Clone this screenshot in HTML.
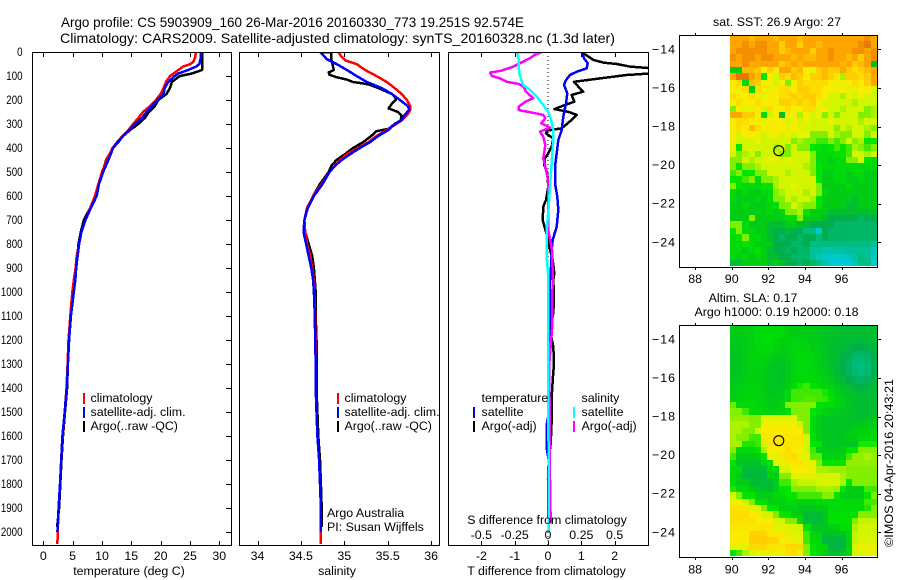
<!DOCTYPE html>
<html lang="en">
<head>
<meta charset="utf-8">
<title>Argo profile 5903909_160</title>
<style>
html,body{margin:0;padding:0;background:#fff;}
svg{display:block;font-family:"Liberation Sans",Arial,sans-serif;font-size:12.4px;fill:#000;}
.title{font-size:14px;}
.frame{fill:none;stroke:#000;stroke-width:1;shape-rendering:crispEdges;}
.tick{stroke:#000;stroke-width:1;shape-rendering:crispEdges;}
.ser{fill:none;stroke-width:2.5;shape-rendering:crispEdges;stroke-linejoin:round;}
.cell{shape-rendering:crispEdges;stroke:none;}
</style>
</head>
<body>
<svg id="chart" xmlns="http://www.w3.org/2000/svg" width="900" height="580" viewBox="0 0 900 580">
  <defs>
    <clipPath id="clip-t"><rect x="33" y="53" width="198" height="492"/></clipPath>
    <clipPath id="clip-s"><rect x="240" y="53" width="199" height="492"/></clipPath>
    <clipPath id="clip-d"><rect x="449" y="53" width="199" height="492"/></clipPath>
  </defs>
  <rect x="0" y="0" width="900" height="580" fill="#fff"/>
  <text class="title" x="61" y="27" textLength="463" lengthAdjust="spacingAndGlyphs">Argo profile: CS 5903909_160 26-Mar-2016 20160330_773 19.251S 92.574E</text>
  <text class="title" x="60" y="43" textLength="555" lengthAdjust="spacingAndGlyphs">Climatology: CARS2009. Satellite-adjusted climatology: synTS_20160328.nc (1.3d later)</text>

  <g id="map-sst"></g>
  <g id="map-sla"></g>
  <g id="panel-t"></g>
  <g id="panel-s"></g>
  <g id="panel-d"></g>
  <g id="axes"></g>

  <rect class="frame" x="32.5" y="52.5" width="199" height="493"/>
  <rect class="frame" x="239.5" y="52.5" width="200" height="493"/>
  <rect class="frame" x="448.5" y="52.5" width="200" height="493"/>
  <rect class="frame" x="679.5" y="35.5" width="198" height="232"/>
  <rect class="frame" x="679.5" y="325.5" width="198" height="232"/>

  <text x="129" y="575" text-anchor="middle">temperature (deg C)</text>
  <text x="337" y="575" text-anchor="middle">salinity</text>
  <text x="546.5" y="575" text-anchor="middle">T difference from climatology</text>
  <text x="547" y="524" text-anchor="middle">S difference from climatology</text>

  <g>
    <rect x="83" y="393" width="2" height="11" fill="#f00"/>
    <rect x="83" y="407" width="2" height="11" fill="#00f"/>
    <rect x="83" y="421" width="2" height="11" fill="#000"/>
    <text x="90.5" y="402">climatology</text>
    <text x="90.5" y="416">satellite-adj. clim.</text>
    <text x="90.5" y="430">Argo(..raw -QC)</text>
  </g>
  <g>
    <rect x="337" y="393" width="2" height="11" fill="#f00"/>
    <rect x="337" y="407" width="2" height="11" fill="#00f"/>
    <rect x="337" y="421" width="2" height="11" fill="#000"/>
    <text x="344.5" y="402">climatology</text>
    <text x="344.5" y="416">satellite-adj. clim.</text>
    <text x="344.5" y="430">Argo(..raw -QC)</text>
  </g>
  <text x="327" y="517">Argo Australia</text>
  <text x="327" y="531">PI: Susan Wijffels</text>
  <g>
    <text x="481.5" y="402">temperature</text>
    <text x="481.5" y="416">satellite</text>
    <text x="481.5" y="430">Argo(-adj)</text>
    <rect x="473" y="407" width="2" height="11" fill="#00f"/>
    <rect x="473" y="421" width="2" height="11" fill="#000"/>
    <text x="581.5" y="402">salinity</text>
    <text x="581.5" y="416">satellite</text>
    <text x="581.5" y="430">Argo(-adj)</text>
    <rect x="573" y="407" width="2" height="11" fill="#0ff"/>
    <rect x="573" y="421" width="2" height="11" fill="#f0f"/>
  </g>

  <text x="713" y="26" textLength="128" lengthAdjust="spacing">sat. SST: 26.9 Argo: 27</text>
  <text x="753" y="302" text-anchor="middle">Altim. SLA: 0.17</text>
  <text x="776.5" y="316" text-anchor="middle">Argo h1000: 0.19 h2000: 0.18</text>
  <text transform="translate(893 547) rotate(-90)" textLength="168" lengthAdjust="spacingAndGlyphs">©IMOS 04-Apr-2016 20:43:21</text>
</svg>

<script>
// ---------- temperature panel data (depth m, deg C) ----------
const tempClimDepth = [0,20,40,50,60,75,90,100,125,150,175,200,225,250,275,300,325,350,375,400,450,500,550,600,650,700,750,800,850,900,950,1000,1100,1200,1300,1400,1500,1600,1700,1800,1900,2000,2050];
const tempClim = [26.0,25.9,25.6,25.1,23.9,23.0,22.2,21.6,20.9,20.5,20.0,19.2,18.2,17.0,16.2,15.3,14.5,13.5,12.6,11.8,10.8,10.0,9.4,8.8,8.0,7.2,6.5,6.1,5.7,5.5,5.2,4.95,4.6,4.3,4.15,3.95,3.65,3.3,3.05,2.85,2.6,2.45,2.4];
const tempSatDepth = [0,30,50,60,75,90,100,125,150,175,200,225,250,275,300,325,350,375,400,450,500,550,600,650,700,750,800,850,900,950,1000,1100,1200,1300,1400,1500,1600,1700,1800,1900,2000];
const tempSat = [26.8,26.8,26.6,26.1,24.7,23.0,22.4,21.3,20.7,20.5,19.5,18.5,17.6,16.8,15.6,14.7,13.6,12.7,11.9,11.1,10.2,9.5,9.1,8.1,7.2,6.5,6.1,5.85,5.6,5.45,5.2,4.7,4.4,4.2,4.0,3.65,3.25,3.05,2.85,2.6,2.4];
const tempArgoDepth = [0,75,78,90,100,110,125,150,175,200,225,250,275,300,325,350,375,400,450,475,500,550,600,650,700,750,800,850,900,950,1000,1100,1200,1300,1400,1500,1600,1700,1800,1900,1980];
const tempArgo = [27.05,27.05,26.7,25.3,23.3,22.7,21.9,21.6,21.0,19.6,19.0,18.0,17.3,16.2,14.8,13.6,12.8,11.9,10.7,10.4,10.1,9.5,9.0,8.0,6.9,6.4,6.0,5.8,5.6,5.3,5.1,4.7,4.4,4.2,4.05,3.7,3.35,3.1,2.9,2.7,2.35];

// ---------- salinity panel data (depth m, psu) ----------
const salClimDepth = [0,20,35,50,75,100,125,150,175,200,225,240,260,285,300,325,350,375,400,425,450,475,500,550,600,650,700,750,800,850,900,950,1000,1100,1200,1300,1400,1500,1600,1700,1800,1900,2000,2050];
const salClim = [34.93,34.97,35.01,35.14,35.24,35.37,35.49,35.58,35.66,35.72,35.76,35.76,35.73,35.66,35.6,35.49,35.37,35.28,35.16,35.03,34.95,34.89,34.83,34.74,34.64,34.57,34.54,34.55,34.57,34.61,34.63,34.65,34.655,34.665,34.67,34.67,34.67,34.68,34.69,34.71,34.72,34.73,34.73,34.73];
const salSatDepth = [0,15,30,50,75,100,125,150,175,200,225,240,260,285,300,325,350,375,400,425,450,475,500,550,600,650,700,750,800,850,900,950,1000,1100,1200,1300,1400,1500,1600,1700,1800,1900,2000];
const salSat = [34.72,34.76,34.8,34.91,35.03,35.14,35.26,35.43,35.55,35.64,35.73,35.75,35.7,35.66,35.58,35.51,35.39,35.3,35.18,35.07,34.97,34.89,34.83,34.75,34.65,34.58,34.54,34.53,34.56,34.59,34.62,34.64,34.65,34.66,34.665,34.67,34.67,34.68,34.69,34.71,34.72,34.73,34.73];
const salArgoDepth = [0,1,30,60,75,85,95,105,115,125,130,135,150,175,195,215,235,250,265,285,300,320,330,350,375,400,425,450,475,500,550,600,650,700,750,800,850,900,950,1000,1100,1200,1300,1400,1500,1600,1700,1800,1900,1980];
const salArgo = [34.72,34.85,34.85,34.87,34.88,34.82,34.83,34.91,35.03,35.1,35.2,35.28,35.39,35.55,35.6,35.55,35.51,35.62,35.66,35.65,35.58,35.51,35.37,35.31,35.22,35.1,35.01,34.91,34.85,34.82,34.72,34.64,34.57,34.54,34.55,34.59,34.63,34.65,34.66,34.67,34.67,34.68,34.68,34.68,34.69,34.7,34.72,34.73,34.74,34.74];

// ---------- difference panel data ----------
const diffTArgoDepth = [5,19,33,44,50,61,68,89,96,110,124,144,165,179,207,221,238,249,262,283,318,328,339,360,394,422,443,471,505,561,617,644,700,735,769,811,867,922,950,1020,1089,1158,1228,1297,1367,1436,1533,1630,1700,1783,2000];
const diffTArgo = [1.06,1.21,1.36,1.66,2.06,2.46,3.1,3.1,2.36,1.56,0.78,0.91,1.06,0.71,0.79,0.51,0.19,0.61,0.86,0.71,0.41,-0.04,-0.06,0.16,0.11,0.01,-0.09,-0.11,-0.02,0.01,-0.06,-0.14,-0.16,-0.09,-0.02,0.04,0.14,0.19,0.16,0.18,0.16,0.06,0.16,0.18,0.14,0.11,0.11,0.08,0.02,0,0.02];
const diffTSatDepth = [5,26,47,68,82,96,117,137,172,214,269,325,367,422,478,547,603,658,728,783,825,880,950,1200,1500,1554,1651,1700,2000];
const diffTSat = [1.03,1.08,1.19,1.16,0.86,0.66,0.54,0.48,0.58,0.54,0.46,0.41,0.31,0.26,0.21,0.21,0.28,0.31,0.26,0.14,0.11,0.1,0.06,0.04,0.03,-0.04,-0.04,0.02,0.02];
const diffSArgoDepth = [2,12,26,40,61,78,86,100,110,124,133,144,165,193,207,228,242,251,262,276,297,315,332,353,388,443,478,533,644,742,825,922,1158,1297,1783,1964];
const diffSArgo = [-0.05,-0.1,-0.135,-0.185,-0.26,-0.35,-0.435,-0.42,-0.36,-0.31,-0.22,-0.185,-0.165,-0.11,-0.17,-0.22,-0.22,-0.135,-0.035,-0.02,-0.05,0.015,-0.06,-0.035,-0.02,-0.035,-0.02,0,0,0.002,0.03,0.035,0.03,0.01,0.015,0.02];
const diffSSatDepth = [0,2,33,61,89,117,138,158,186,221,249,276,325,367,443,561,644,742,853,922,1200,1783,2000];
const diffSSat = [-0.05,-0.23,-0.22,-0.22,-0.215,-0.2,-0.185,-0.135,-0.085,-0.035,0,0.02,0.04,0.04,0.03,0.015,0.005,-0.01,-0.01,0,0,0.005,0.005];

// ---------- tick labels ----------
const depthTicks = [0,100,200,300,400,500,600,700,800,900,1000,1100,1200,1300,1400,1500,1600,1700,1800,1900,2000];
const tempTicks = [0,5,10,15,20,25,30];
const salTicks = ["34","34.5","35","35.5","36"];
const diffTTicks = ["-2","-1","0","1","2"];
const diffSTicks = ["-0.5","-0.25","0","0.25","0.5"];
const lonTicks = [88,90,92,94,96];
const latTicks = [-14,-16,-18,-20,-22,-24];

// ---------- profile position ----------
const profileLon = [92.574];
const profileLat = [-19.251];

// ---------- SST map levels, 36 rows (north to south) by 24 columns ----------
const sstRows = [
[9,9,9,8.5,9,9,9,8.5,9,9,9,8.5,9,9,9,9,9,9,9,9,9,9,9.5,9],
[9,9,9.5,9,9.5,9.5,9,9,8,9,9,8,9,9,8.5,9,9,9,9,9,9,9.5,10,9],
[9,9.5,9.5,9.5,9.5,9.5,9,9,8,8.5,9,9,9,8,9,9,9.5,9,9,9,9.5,9.5,9,9.5],
[9.5,9,9.5,9.5,9,9.5,9.5,9,9,9,8.5,9,8.5,8.5,9,9,9.5,9,9,8.5,9,8,9,9.5],
[9,9,9.5,9,9,9,9,9,8,8.5,9,8.5,9,9,9,9,9,9,8.5,9,8,8.5,9,2.5],
[3,3,8.5,8.5,8,7,8,7,9,9,8,8.5,7,6.5,8,8.5,8,8,9,8,7.5,8,8.5,9],
[9,10,10,9,8.5,4,7,6,8,7.5,8.5,8,7,8,8,8.5,8,7,5.5,8,8,7.5,8,9],
[7,7.5,3.5,8.5,8,6.5,7,6,7,5,6.5,8,7.5,7.5,7.5,7.5,7,7,6.5,7,7.5,7,8,9],
[7,7,7.5,3,7.5,7,6.5,7,7.5,7.5,7,8,8,7.5,7.5,7,7,6.5,7,6.5,6.5,7,7,6],
[7.5,7,7,7.5,6.5,6.5,7,7,7.5,7.5,8,7.5,8,8,7.5,7,6,6,5.5,6.5,6,6.5,6,6],
[7,7.5,7,7,7.5,7,7,6.5,8,8,7.5,8,7.5,8,7,6,6,6,6,6,5.5,6,6,6],
[5,7,6.5,6.5,7,6,7.5,7,7,7.5,7,7,7.5,7.5,6.5,7,6,6,5.5,6,6,6,5,5.5],
[9,9,8,8,7,3.5,6,7,2.5,7,7,5.5,7,6,6.5,5,6,5,6,6,6,5,5,5.5],
[7,7.5,7.5,7,7,6.5,7,7,7,6,7,6,6.5,6,6,6,6.5,6,6,6,6,5.5,6,6],
[7,7.5,7,8.5,7.5,7,7,7,7,6.5,7,6.5,6,6,6,6,6,5,6,5.5,6,6,5.5,5],
[7,6,7,7,6.5,6,6.5,7,6,6.5,6,6.5,6.5,5,5,5,6,5.5,5,5,6,6,5,6],
[7,6,6,6,6.5,6,6,6,6,6,5,5.5,5,5,4.5,4.5,5,4.5,5,6,5,5.5,4,4],
[6.5,4,6,6,6,6,6,5.5,6,5,6,5,5,4,4,3.5,4,4.5,4,4.5,5.5,5,4.5,5],
[6,5,5.5,6,5,6,6,6,5,5,6,6,6,5,3.5,3.5,3.5,4,4,4.5,6,6,5.5,6],
[5,5,6,5.5,6,6,6.5,6.5,6,6.5,6,6,6,5,3.5,3.5,3,3.5,3.5,5,5,6,4,3.5],
[5,4,5,5,5.5,6,6,6,6,6,6,6,5.5,5,4,3.5,3.5,3.5,3.5,3.5,3.5,3.5,3.5,3.5],
[4.5,5,4,4,5,5,6,6,6,5.5,6,6,6,5,4,3,3,3.5,3.5,3,3.5,3.5,3,3],
[4,4,4.5,5,3.5,5,5,5.5,6,6,6,6,6,6,4,3,3,3.5,3.5,3,3,3.5,3,3],
[5,4,3.5,3.5,3.5,4,4,5.5,6,6,6.5,6,6,6,5,3,3,3,3,3.5,3,3,3,3],
[3.5,3,3.5,3,3,3.5,3.5,5,5.5,6,6,6,5.5,6,5,3.5,3,3,3,3,3,3,3,3],
[3.5,3,3,3,3.5,3,3.5,5,5,6,5.5,6,6,5.5,4,3,3,3,3,3,2.5,3,3,3],
[3,3,3.5,3,3,3,3.5,3.5,5,5,6,5.5,5,5,4,3,3,3,3,2.5,2.5,3,3,3],
[3,3,3,3,3,3,3.5,3,3.5,5,5,5.5,4,3,3,3,2.5,2.5,2.5,2.5,2.5,2.5,2.5,2.5],
[3,3,3,5,3,3,3,3,3,3.5,3.5,5,3,3,3,2.5,2,2,2,2,2,1.5,2,2],
[5,5,3.5,3,3,3,2.5,2.5,2.5,3,3,2.5,2.5,2,2,2,2,1.5,1.5,1.5,1.5,1.5,1.5,1.5],
[4,5,3.5,3.5,3,3,2.5,2,2,2.5,2,2,1,1,0.3,2,1.5,1.5,1.5,1.5,1.5,1.5,1.5,1.5],
[3.5,4,5,3.5,3.5,3,2.5,2,1.5,2,2,1.5,2,2,1,2,1.5,1.5,1.5,1.5,1.5,1.5,1.5,1.5],
[3.5,3.5,4,3.5,3,3,3,2,2,2,1.5,1.5,2,1,1,1,1,1,1,1,1,1,1,0.8],
[3.5,3.5,3,3.5,4,3,2.5,2,2,1.5,2,1.5,1.5,0.8,0.8,0.6,0.6,0.7,0.7,0.8,0.8,0.8,0.8,0.5],
[3.5,3,3.5,3,3.5,3,2.5,2.5,2,2,1.5,1.5,1.5,0.8,0.5,0.4,0.3,0.3,0.3,0.5,0.7,1,0.8,0.4],
[2.5,2.5,3,3,3,3,2.5,3,2.5,2,2,1.5,2,1.5,1,0.6,0.3,0.2,0.2,0.2,0.5,1,1,0.2]
];

// ---------- SLA map levels, 36 rows (north to south) by 24 columns ----------
const slaRows = [
[3,3,3,3,3.5,3.5,3.5,3.5,3.5,3,3,3,3,3,2.8,2.8,2.6,2.6,2.5,2.5,2.5,2.5,2.5,2.5],
[3,3,3,3.2,3.5,3.8,3.8,3.8,3.5,3.2,3,3,3,2.9,2.8,2.7,2.6,2.6,2.5,2.5,2.5,2.5,2.5,2.5],
[2.9,2.9,3,3.2,3.5,3.7,3.7,3.4,3.2,3.2,3.3,3.3,3.2,3,2.9,2.7,2.6,2.5,2.5,2.4,2.4,2.3,2.4,2.5],
[2.8,2.8,3,3.2,3.4,3.5,3.5,3.2,3,3.2,3.4,3.4,3.3,3,2.9,2.8,2.6,2.5,2.4,2.2,2,2,2.1,2.3],
[2.7,2.8,3,3.2,3.4,3.5,3.3,3,2.9,3.1,3.4,3.5,3.4,3.2,3,2.8,2.6,2.5,2.2,1.9,1.6,1.5,1.7,2.1],
[2.7,2.8,3,3.2,3.3,3.2,3,2.8,2.8,3,3.3,3.5,3.5,3.3,3,2.8,2.6,2.4,2.1,1.7,1.3,1.2,1.4,1.9],
[2.7,2.8,3,3.2,3.3,3.1,2.8,2.7,2.7,2.9,3.3,3.5,3.5,3.4,3.1,2.9,2.6,2.4,2,1.6,1.2,1,1.3,1.8],
[2.7,2.8,3,3.2,3.2,3,2.8,2.7,2.7,2.9,3.3,3.5,3.6,3.4,3.2,3,2.7,2.4,2.1,1.7,1.3,1.1,1.4,1.9],
[2.8,2.9,3.1,3.2,3.2,3,2.8,2.7,2.7,3,3.4,3.6,3.7,3.6,3.4,3.1,2.9,2.6,2.3,2,1.7,1.6,1.8,2.2],
[2.9,3,3.2,3.3,3.2,3,2.8,2.7,2.8,3.1,3.7,4.2,4.5,4,3.7,3.4,3.2,2.9,2.6,2.4,2.2,2.1,2.2,2.4],
[3,3.1,3.3,3.3,3.2,3,2.8,2.8,2.9,3.4,4.5,4.5,4.5,4.5,4.5,4.2,3.5,3.1,2.8,2.6,2.5,2.4,2.4,2.5],
[3.1,3.2,3.4,3.4,3.3,3.1,2.9,2.9,3,3.5,4.5,4.5,4.6,4.6,4.5,4.4,4,3.3,2.9,2.7,2.6,2.5,2.5,2.5],
[4.8,3.6,3.5,3.5,3.4,3.2,3,3,3.2,5,5,5,5,5,3.8,3.8,3.8,3.3,3,2.8,2.6,2.5,2.5,2.5],
[5,5,4.5,3.6,3.5,3.4,3.2,3.3,3.4,3.6,5,5,5,4,3.5,3.2,3,2.9,2.8,2.7,2.6,2.5,2.5,2.6],
[5.2,5.2,5.2,5,5,6.3,6.3,6.3,6.3,6.3,6.3,5,5,3.5,3,2.8,2.8,2.7,2.7,2.6,2.6,2.6,2.7,2.8],
[5.5,5.5,5.5,5,5,6.8,6.8,6.8,6.8,6.8,6.8,6,5,3.5,3,2.8,2.7,2.7,2.7,2.7,2.8,2.9,3,3],
[5.5,5.5,5,5,6,7,7,7,7,7,7,7,5,3.5,3,2.8,2.7,2.7,2.7,2.8,3,3.2,3.3,3.4],
[5.5,5,5,4.5,4.5,7.2,7.2,7.2,7.2,7.2,7.2,7.2,6,3.8,3,2.8,2.7,2.7,2.8,3,3,3.5,3.5,3.5],
[5.5,5.5,4.2,4.2,4.5,6,7.2,7.2,7.2,7.2,7.2,7.2,6,4,4,2.8,2.8,2.8,2.8,2.8,2.8,4.2,4.2,4.2],
[5,3.5,3.5,3.5,4,5.5,7,7,7,7.5,7,7,6,4.5,3,3,3,3,3,4,4,5,5,5],
[4.5,3,3,3,3,4,6.5,6.5,7.3,7.3,7.6,6.5,6.5,4.7,4.7,3.2,3.2,3.2,3.2,4.5,5.2,5.2,5.5,5.2],
[4,2.7,2.7,2.7,2.7,3.5,3.5,6.5,6.5,7.2,7.2,7.2,6.5,6.5,5,4,4,4,4,5.2,5.2,5.2,5.2,5.2],
[3.5,3.5,2.4,2.4,2.4,2.4,3.5,3.5,6,6,7,7,7,6.5,5.5,5.5,5.3,5.3,5.3,5,5,5,5,5],
[3.5,3,2.3,2.3,2.3,2.3,3,3,5,5,6.3,6.3,6.3,6.3,6,6,6,6,5.5,5,5,5,5,5],
[3.8,3,3,2.4,2.4,2.4,2.4,3,4.5,4.5,5.5,5.8,5.8,5.8,6,6.2,6.2,6.2,5.5,4,5,5,5,5],
[4.2,3.5,3.5,3,2.6,2.6,2.6,3,4,4,5,5,5,5,5.5,5.5,5.5,5.3,4,3,3,3,4.5,4.5],
[6,5,4,4,3,3,3,3.5,3.5,4,4,4.5,4.5,4.5,4.5,5,5,4,3,3,3,3,4,5],
[6.8,6.8,6,5,3.8,3.8,3.2,3.2,3.2,3.5,3.5,3.2,3.2,3.2,3.5,3.5,3.5,3.5,3.5,3.5,3.5,3.5,4.5,4.5],
[7.3,7.3,7.3,6.3,6.3,5,4,4,3.2,3.2,3.2,2.8,2.8,2.8,3,3,3.6,3.6,3.6,3.6,3.6,3.6,4.2,5],
[7.5,7.5,7.5,7,7,6,6,5,4,4,3,3,2.4,2.4,2.4,2.8,3.8,3.8,3.8,3.8,3.8,5,5,5],
[7.4,7.4,7.4,7.4,7,7,7,6,6,5,5,3.5,2.4,2.4,2.4,2.8,3.9,3.9,3.9,3.9,5,5.8,5.8,5.8],
[7.2,7.2,7.2,7.2,7.3,7.3,7.3,6.3,6.3,6.3,6,6,4,2.8,2.8,2.8,3,3,3.8,3.8,5.5,6,6,6],
[7,7,7,7.8,7.8,7.8,7.2,7.2,7.2,6.3,6.3,6.3,4.5,3.4,3.4,2.6,2.6,2.6,2.6,3.4,5.8,6,6,6],
[7,7,7,8,8,8,7.8,7.8,7,7,6.5,6.5,4.5,3.6,3.6,2.2,2.2,2.2,2.2,3.3,5.8,6.2,6.2,6.2],
[6.5,6.5,6.5,7.6,7.6,7.6,7.3,7.3,7.3,7.6,7.6,7.6,5,4,3.6,3.6,2.2,2.2,2.2,3.3,6,6.5,6.5,6.5],
[4,4.5,5.5,6,6.5,6.5,6.5,6.5,6.8,7.4,7.6,6.5,5,4,3.6,3,2.5,2.4,2.6,3.3,6,6.3,6.5,6.5]
];

// ---------- colour ramp stops ----------
const rampR = [0,0,0,0,0,130,212,250,255,255,232];
const rampG = [205,190,175,205,228,238,245,236,205,165,120];
const rampB = [235,130,75,20,0,0,0,0,0,0,0];

// ---------- axis functions ----------
function depthY(d){ return 52 + d * 0.24; }
function tempX(t){ return 43.3 + t * 5.867; }
function salX(s){ return 344.3 + (s - 35) * 86.8; }
function diffTX(v){ return 548 + v * 33.33; }
function diffSX(v){ return 548 + v * 133.3; }
function lonX(l){ return 731.7 + (l - 90) * 18.3; }
function latY1(l){ return 49.3 + (-14 - l) * 19.3; }
function latY2(l){ return 339.3 + (-14 - l) * 19.3; }
function rampColor(v){
  const c = Math.max(0, Math.min(10, v));
  const i = Math.min(9, Math.floor(c));
  const f = c - i;
  const r = Math.round(rampR[i] + (rampR[i+1] - rampR[i]) * f);
  const g = Math.round(rampG[i] + (rampG[i+1] - rampG[i]) * f);
  const b = Math.round(rampB[i] + (rampB[i+1] - rampB[i]) * f);
  return 'rgb(' + r + ',' + g + ',' + b + ')';
}

const NS = 'http://www.w3.org/2000/svg';
function make(tag){ return document.createElementNS(NS, tag); }

function drawLine(parent, depths, values, xFn, color, clip, name){
  const el = make('polyline');
  
  
  el.setAttribute('class', 'ser');
  el.setAttribute('stroke', color);
  el.setAttribute('clip-path', 'url(#' + clip + ')');
  el.setAttribute('points', depths.map(function(d, i){
    return xFn(values[i]).toFixed(1) + ',' + depthY(d).toFixed(1);
  }).join(' '));
  parent.appendChild(el);
}

function drawTick(parent, x1, y1, x2, y2, name){
  const el = make('line');
  
  
  el.setAttribute('class', 'tick');
  el.setAttribute('x1', x1);
  el.setAttribute('y1', y1);
  el.setAttribute('x2', x2);
  el.setAttribute('y2', y2);
  parent.appendChild(el);
}

function drawLabel(parent, x, y, str, anchor, name, fitWidth, fitMode){
  const el = make('text');
  
  
  el.setAttribute('x', x);
  el.setAttribute('y', y);
  el.setAttribute('text-anchor', anchor);
  if (fitWidth) {
    el.setAttribute('textLength', fitWidth);
    el.setAttribute('lengthAdjust', fitMode);
  }
  el.textContent = str;
  parent.appendChild(el);
}

function drawMap(parent, rows, latFn, name){
  rows.forEach(function(row, r){
    const yTop = Math.round(latFn(-13.25 - r / 3));
    const yBot = Math.round(latFn(-13.25 - (r + 1) / 3));
    row.forEach(function(v, c){
      const xL = Math.round(lonX(89.92 + c / 3));
      const xR = Math.round(lonX(89.92 + (c + 1) / 3));
      const el = make('rect');
      
      
      el.setAttribute('class', 'cell');
      el.setAttribute('x', xL);
      el.setAttribute('y', yTop);
      el.setAttribute('width', xR - xL);
      el.setAttribute('height', yBot - yTop);
      el.setAttribute('fill', rampColor(v));
      parent.appendChild(el);
    });
  });
}

function drawMarker(parent, latFn, name){
  const el = make('circle');
  
  
  el.setAttribute('cx', lonX(profileLon[0]));
  el.setAttribute('cy', latFn(profileLat[0]));
  el.setAttribute('r', 5);
  el.setAttribute('fill', 'none');
  el.setAttribute('stroke', '#000');
  el.setAttribute('stroke-width', 1.1);
  parent.appendChild(el);
}

// ---------- series ----------
const gT = document.getElementById('panel-t');
drawLine(gT, tempArgoDepth, tempArgo, tempX, '#000', 'clip-t', 'temperature-argo-line');
drawLine(gT, tempClimDepth, tempClim, tempX, '#f00', 'clip-t', 'temperature-climatology-line');
drawLine(gT, tempSatDepth, tempSat, tempX, '#00f', 'clip-t', 'temperature-satellite-line');

const gS = document.getElementById('panel-s');
drawLine(gS, salArgoDepth, salArgo, salX, '#000', 'clip-s', 'salinity-argo-line');
drawLine(gS, salClimDepth, salClim, salX, '#f00', 'clip-s', 'salinity-climatology-line');
drawLine(gS, salSatDepth, salSat, salX, '#00f', 'clip-s', 'salinity-satellite-line');

const gD = document.getElementById('panel-d');
const zeroLine = make('line');


zeroLine.setAttribute('x1', diffTX(0));
zeroLine.setAttribute('x2', diffTX(0));
zeroLine.setAttribute('y1', depthY(0));
zeroLine.setAttribute('y2', 545);
zeroLine.setAttribute('stroke', '#000');
zeroLine.setAttribute('stroke-width', 1);
zeroLine.setAttribute('stroke-dasharray', '1 3');
zeroLine.setAttribute('shape-rendering', 'crispEdges');
gD.appendChild(zeroLine);
drawLine(gD, diffTArgoDepth, diffTArgo, diffTX, '#000', 'clip-d', 't-difference-argo-line');
drawLine(gD, diffTSatDepth, diffTSat, diffTX, '#00f', 'clip-d', 't-difference-satellite-line');
drawLine(gD, diffSArgoDepth, diffSArgo, diffSX, '#f0f', 'clip-d', 's-difference-argo-line');
drawLine(gD, diffSSatDepth, diffSSat, diffSX, '#0ff', 'clip-d', 's-difference-satellite-line');

// ---------- maps ----------
const gSst = document.getElementById('map-sst');
drawMap(gSst, sstRows, latY1, 'sst-cell');
drawMarker(gSst, latY1, 'sst-profile-marker');
const gSla = document.getElementById('map-sla');
drawMap(gSla, slaRows, latY2, 'sla-cell');
drawMarker(gSla, latY2, 'sla-profile-marker');

// ---------- axes ----------
const gA = document.getElementById('axes');
depthTicks.forEach(function(d){
  const y = Math.round(depthY(d)) + 0.5;
  drawTick(gA, 226, y, 232, y, 'depth-tick');
  const label = String(d);
  drawLabel(gA, 22.5, depthY(d) + 4, label, 'end', 'depth-tick-label', label.length * 5.4, 'spacingAndGlyphs');
});
tempTicks.forEach(function(t){
  const x = Math.round(tempX(t)) + 0.5;
  drawTick(gA, x, 53, x, 57, 'temperature-top-tick');
  drawTick(gA, x, 541, x, 545, 'temperature-bottom-tick');
  drawLabel(gA, tempX(t), 560, String(t), 'middle', 'temperature-tick-label');
});
salTicks.forEach(function(s){
  const x = Math.round(salX(parseFloat(s))) + 0.5;
  drawTick(gA, x, 53, x, 57, 'salinity-top-tick');
  drawTick(gA, x, 541, x, 545, 'salinity-bottom-tick');
  drawLabel(gA, salX(parseFloat(s)), 560, s, 'middle', 'salinity-tick-label');
});
diffTTicks.forEach(function(t){
  const x = Math.round(diffTX(parseFloat(t))) + 0.5;
  if (t !== '0') {
    drawTick(gA, x, 53, x, 57, 'difference-top-tick');
  }
  drawTick(gA, x, 541, x, 545, 'difference-bottom-tick');
  drawLabel(gA, diffTX(parseFloat(t)), 560, t, 'middle', 't-difference-tick-label');
});
diffSTicks.forEach(function(s){
  drawLabel(gA, diffSX(parseFloat(s)), 539, s, 'middle', 's-difference-tick-label');
});
lonTicks.forEach(function(l){
  const x = Math.round(lonX(l)) + 0.5;
  drawTick(gA, x, 33, x, 35, 'sst-longitude-top-tick');
  drawTick(gA, x, 268, x, 270, 'sst-longitude-bottom-tick');
  drawTick(gA, x, 323, x, 325, 'sla-longitude-top-tick');
  drawTick(gA, x, 558, x, 560, 'sla-longitude-bottom-tick');
  drawLabel(gA, lonX(l), 283, String(l), 'middle', 'sst-longitude-label');
  drawLabel(gA, lonX(l), 573.5, String(l), 'middle', 'sla-longitude-label');
});
latTicks.forEach(function(l){
  const y1 = Math.round(latY1(l)) + 0.5;
  const y2 = Math.round(latY2(l)) + 0.5;
  const label = '\u2212' + String(Math.abs(l));
  drawTick(gA, 878, y1, 881, y1, 'sst-latitude-tick');
  drawTick(gA, 878, y2, 881, y2, 'sla-latitude-tick');
  drawLabel(gA, 675, latY1(l) + 4, label, 'end', 'sst-latitude-label', 23, 'spacing');
  drawLabel(gA, 675, latY2(l) + 4, label, 'end', 'sla-latitude-label', 23, 'spacing');
});
</script>
</body>
</html>
